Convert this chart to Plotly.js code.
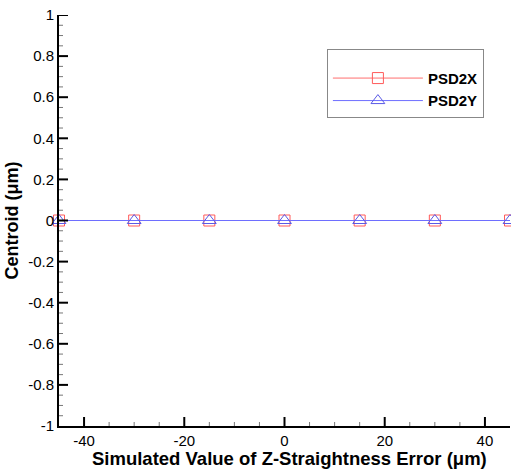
<!DOCTYPE html>
<html><head><meta charset="utf-8">
<script src="https://cdn.plot.ly/plotly-3.0.1.min.js"></script>
<style>html,body{margin:0;padding:0;background:#fff}#c{width:511px;height:472px}</style>
</head><body><div id="c"></div>
<script>
const xVals = [-45, -30, -15, 0, 15, 30, 45];
const psd2x = [0, 0, 0, 0, 0, 0, 0];
const psd2y = [0, 0, 0, 0, 0, 0, 0];
const xTickVals = [-40, -20, 0, 20, 40];
const xTickText = ['-40', '-20', '0', '20', '40'];
const yTickVals = [-1, -0.8, -0.6, -0.4, -0.2, 0, 0.2, 0.4, 0.6, 0.8, 1];
const yTickText = ['-1', '-0.8', '-0.6', '-0.4', '-0.2', '0', '0.2', '0.4', '0.6', '0.8', '1'];
const xRange = [-45, 45];
const yRange = [-1, 1];

const font = {family: 'Liberation Sans, Arial, sans-serif', color: '#000'};
const traces = [
  {x: xVals, y: psd2x, name: 'PSD2X', mode: 'lines+markers', cliponaxis: false,
   line: {color: 'rgb(255,110,110)', width: 1},
   marker: {symbol: 'square-open', size: 11, color: 'rgb(255,90,90)', line: {width: 1}}},
  {x: xVals, y: psd2y, name: 'PSD2Y', mode: 'lines+markers', cliponaxis: false,
   line: {color: 'rgb(110,110,255)', width: 1},
   marker: {symbol: 'triangle-up-open', size: 12, color: 'rgb(90,90,230)', line: {width: 1}}}
];

// inward-pointing tick marks drawn as pixel-sized shapes anchored on the axes
const shapes = [];
const xTick = (v, len, w, c) => shapes.push({type: 'line', layer: 'above', xref: 'x', yref: 'y',
  x0: v, x1: v, ysizemode: 'pixel', yanchor: yRange[0], y0: 0, y1: len, line: {color: c, width: w}});
const yTick = (v, len, w, c) => shapes.push({type: 'line', layer: 'above', xref: 'x', yref: 'y',
  y0: v, y1: v, xsizemode: 'pixel', xanchor: xRange[0], x0: 0, x1: len, line: {color: c, width: w}});
for (let i = 0; i <= 18; i++) {
  const v = xRange[0] + i * 5;
  if (!xTickVals.includes(v) && v > xRange[0] && v < xRange[1]) xTick(v, 4, 1, '#777');
}
for (let i = 0; i <= 40; i++) {
  const v = Math.round((yRange[0] + i * 0.05) * 100) / 100;
  if (!yTickVals.some(t => Math.abs(t - v) < 1e-9) && v > yRange[0] && v < yRange[1]) yTick(v, 4, 1, '#777');
}
xTickVals.forEach(v => xTick(v, 9, 2, '#000'));
yTickVals.forEach(v => { if (v > yRange[0]) yTick(v, 9, 2, '#000'); });

const layout = {
  width: 511, height: 472,
  margin: {l: 59, r: 1, t: 15, b: 46},
  paper_bgcolor: '#fff', plot_bgcolor: '#fff',
  font: Object.assign({size: 15}, font),
  showlegend: true,
  legend: {x: 0.594, y: 0.917, xanchor: 'left', yanchor: 'top',
    bordercolor: '#888', borderwidth: 1, bgcolor: '#fff',
    itemwidth: 90, tracegroupgap: 0,
    title: {text: ' ', font: Object.assign({size: 9}, font)},
    font: Object.assign({size: 15, weight: 'bold'}, font)},
  xaxis: {range: xRange, showgrid: false, zeroline: false,
    showline: true, linecolor: '#000', linewidth: 2, layer: 'above traces',
    tickmode: 'array', tickvals: xTickVals, ticktext: xTickText, ticks: '',
    tickfont: Object.assign({size: 15}, font)},
  yaxis: {range: yRange, showgrid: false, zeroline: false,
    showline: true, linecolor: '#000', linewidth: 2, layer: 'above traces',
    tickmode: 'array', tickvals: yTickVals, ticktext: yTickText, ticks: '',
    tickfont: Object.assign({size: 15}, font),
    title: {text: 'Centroid (μm)', standoff: 5,
      font: Object.assign({size: 18, weight: 'bold'}, font)}},
  shapes: shapes,
  annotations: [{text: '<b>Simulated Value of Z-Straightness Error (μm)</b>',
    xref: 'paper', yref: 'paper', x: 0.51, y: -0.078, xanchor: 'center', yanchor: 'middle',
    showarrow: false, font: Object.assign({size: 18.5}, font)}]
};
Plotly.newPlot('c', traces, layout, {displayModeBar: false, staticPlot: true});
</script></body></html>
